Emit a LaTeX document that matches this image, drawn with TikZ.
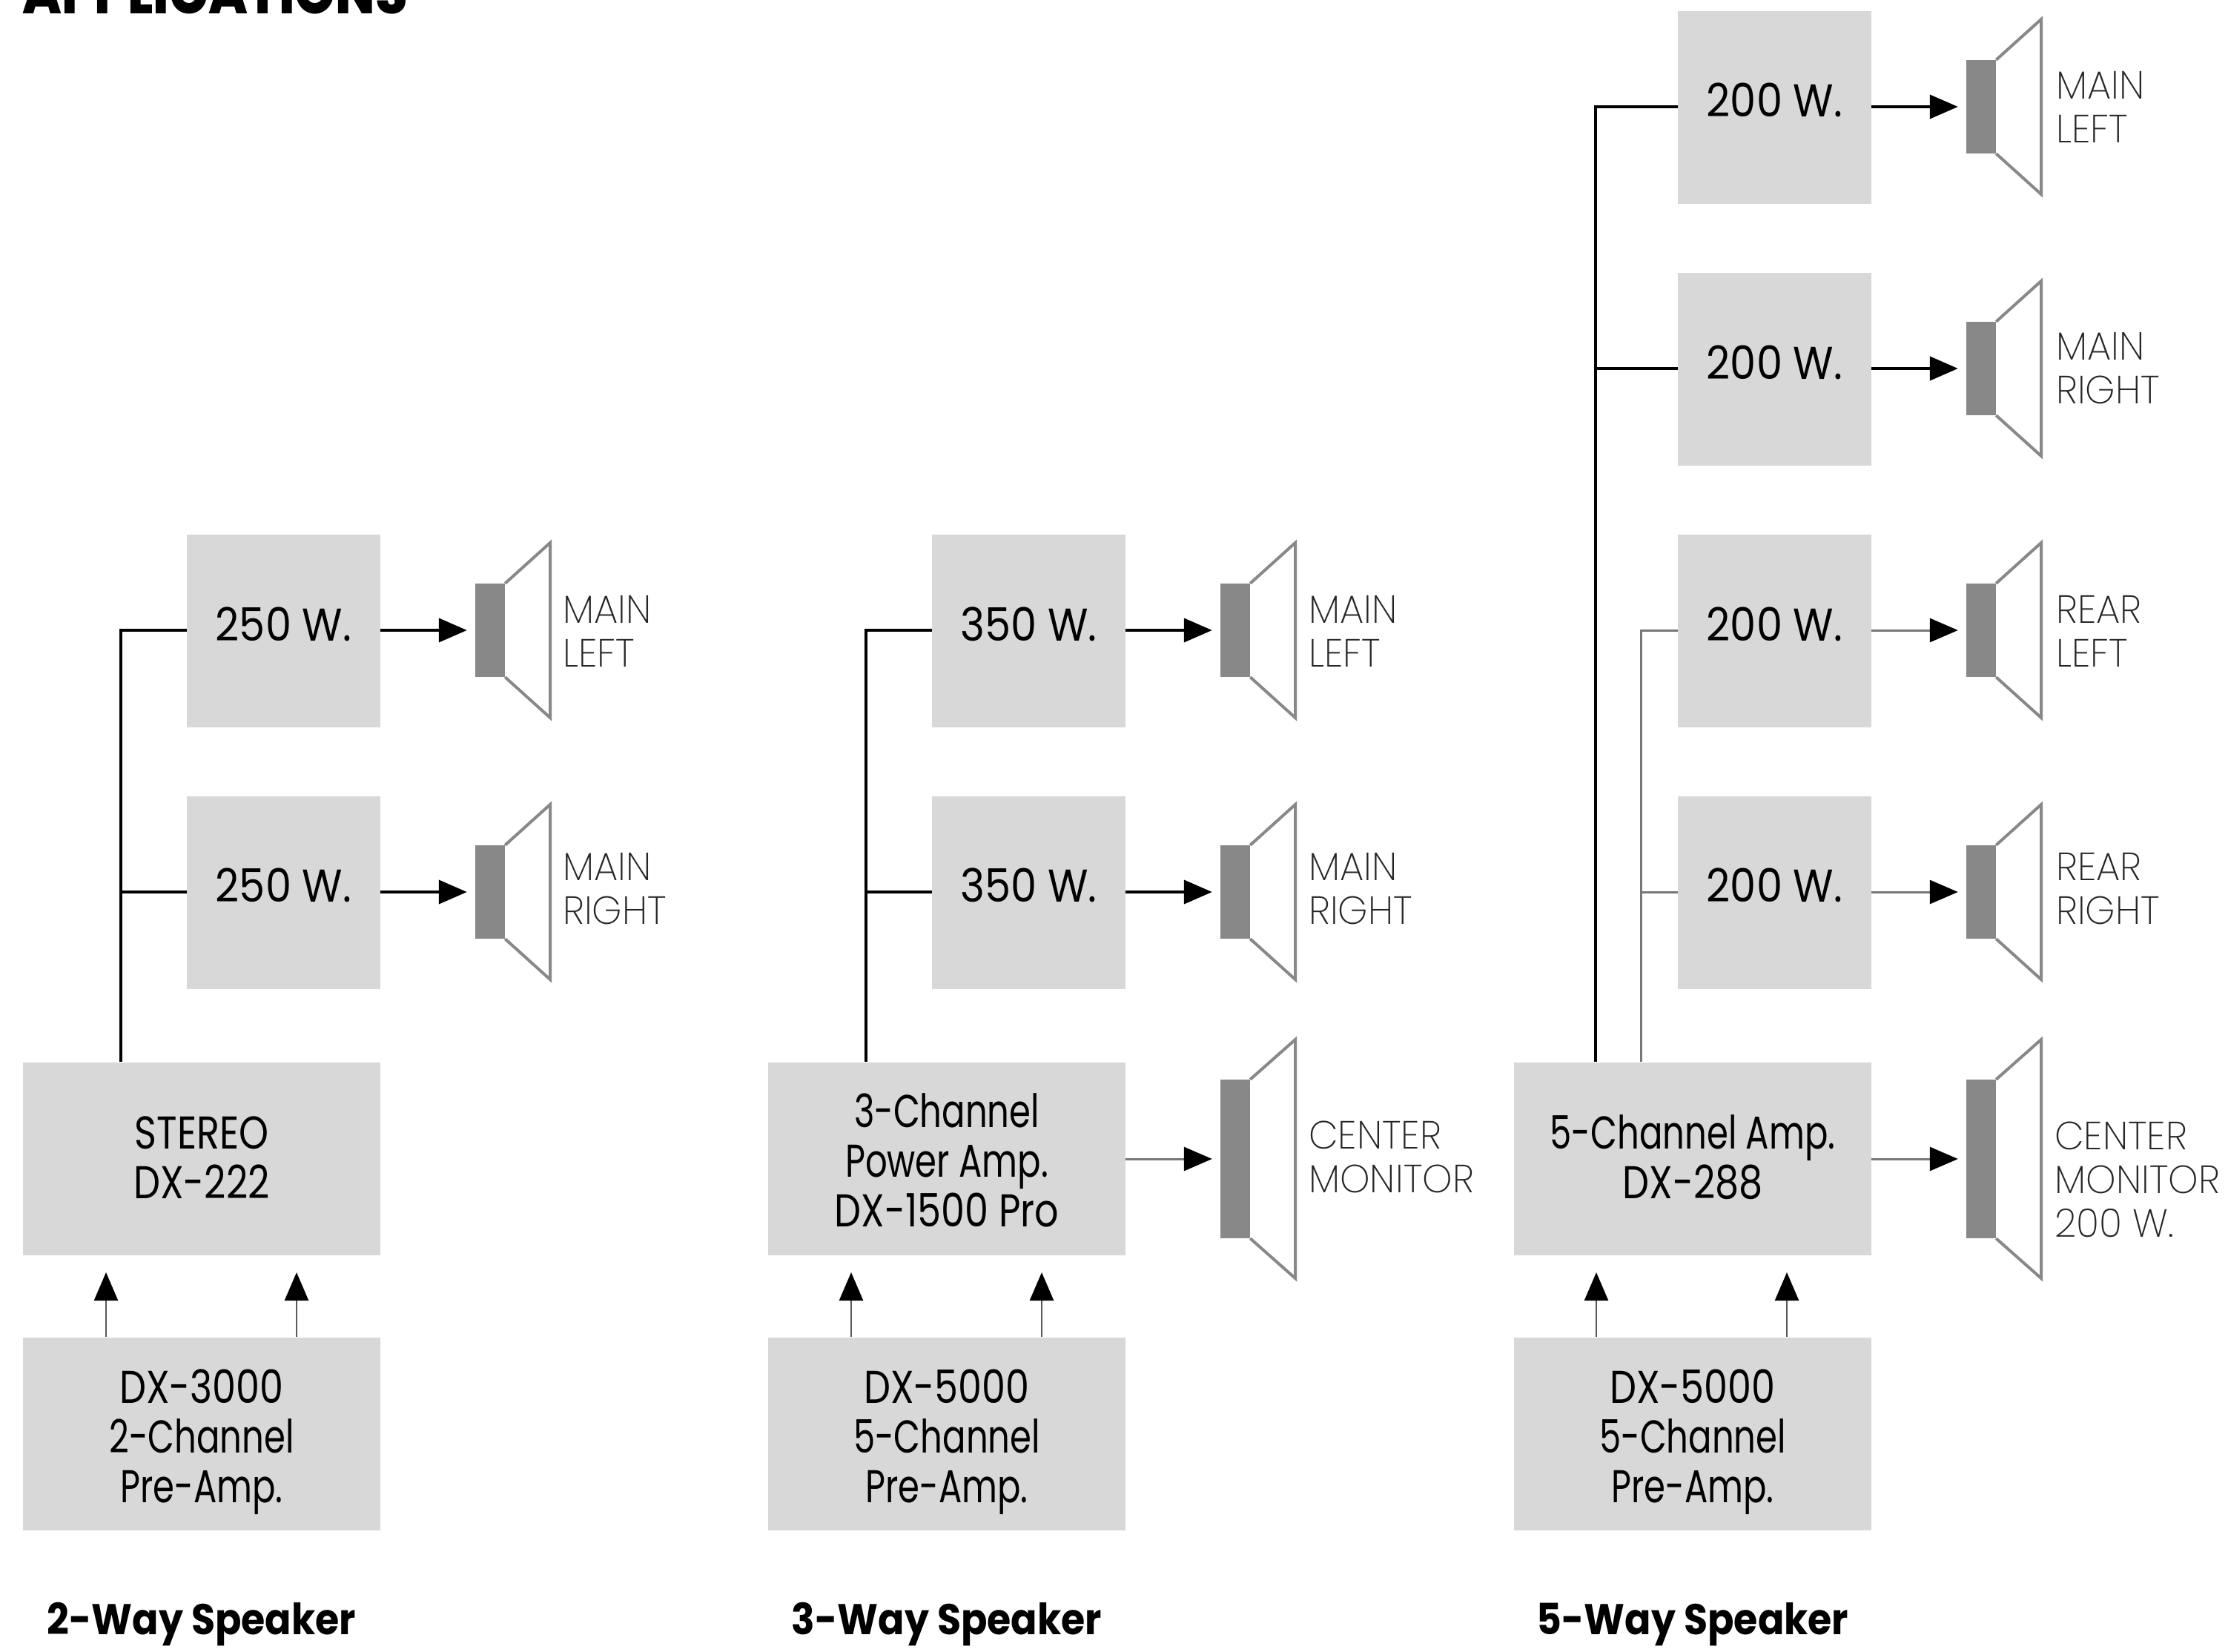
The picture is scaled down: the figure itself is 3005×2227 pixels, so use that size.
\documentclass[tikz,border=0pt]{standalone}
\usepackage{fontspec}
\usetikzlibrary{arrows.meta}
\setmainfont{Poppins}[FakeStretch=0.82]
\newfontfamily\capf{Poppins}[FakeStretch=0.82]
\newfontfamily\lowf{Poppins}[FakeStretch=0.75]
\newfontfamily\wattf{Poppins}[FakeStretch=0.9]
\newfontfamily\thinf{Poppins ExtraLight}[FakeStretch=0.97]
\newfontfamily\headf{Poppins}[UprightFont=*-Bold,FakeStretch=0.9]
\newfontfamily\heavyf{Poppins ExtraBold}[FakeStretch=0.875]
\definecolor{boxgray}{HTML}{D8D8D8}
\definecolor{spkgray}{HTML}{888888}
\definecolor{wiregray}{HTML}{777777}
\newcommand{\btext}[2]{\raisebox{#1pt}[0pt][0pt]{\begin{tabular}{@{}c@{}}#2\end{tabular}}}
\tikzset{
  x=1pt,y=-1pt,
  boxn/.style={fill=boxgray,inner sep=0pt,font=\fontsize{62}{67}\selectfont,text=black},
  pwr/.style={boxn,minimum width=261pt,minimum height=260pt},
  wide/.style={boxn,minimum width=482pt,minimum height=260pt},
  cone/.style={fill=spkgray,inner sep=0pt,minimum width=40pt},
  horn/.style={draw=spkgray,line width=4pt,line join=miter,fill=white},
  wire/.style={black,line width=4pt},
  thinwire/.style={wiregray,line width=3pt},
  flow/.style={-{Triangle[length=38pt,width=32pt,color=black]},shorten >=11pt},
  feed/.style={line width=2.5pt,draw=black!65,-{Triangle[length=38pt,width=32pt,color=black]}},
  lab/.style={anchor=west,inner sep=0pt,align=left,text=black!85,font=\thinf\fontsize{53}{59}\selectfont},
  ttl/.style={inner sep=0pt,font=\headf\fontsize{58}{67}\selectfont,text=black}
}
% name, cone centre x, centre y, cone half height, horn half height
\newcommand{\spk}[5]{%
  \node[cone,minimum height=#4*2pt] (#1) at (#2,#3) {};
  \pgfmathsetmacro{\flare}{#5-#4}
  \draw[horn] (#1.north east) -- ([xshift=61pt,yshift=\flare pt]#1.north east)
     -- ([xshift=61pt,yshift=-\flare pt]#1.south east) -- (#1.south east);
}
\begin{document}
\begin{tikzpicture}
\useasboundingbox (0,0) rectangle (3005,2227);
\begin{scope}
\clip (0,0) rectangle (3005,2227);
\node[anchor=base west,inner sep=0pt,font=\heavyf\fontsize{80}{80}\selectfont] (heading) at (30,18) {APPLICATIONS};
\end{scope}

% column 1
\node[pwr] (a1) at (382.5,851) {\btext{-6}{\wattf 250 W.}};
\node[pwr] (a2) at (382.5,1203.5) {\btext{-6}{\wattf 250 W.}};
\node[wide] (a3) at (272,1562.5) {\btext{-13}{\capf STEREO\\\capf DX-222}};
\node[wide] (a4) at (272,1933.5) {\btext{-18.5}{\capf DX-3000\\\lowf 2-Channel\\\lowf Pre-Amp.}};
\node[ttl] (at) at (272,2191) {2-Way Speaker};
\spk{as1}{661}{850}{63}{118}
\spk{as2}{661}{1203}{63}{118}
\node[lab] (al1) at (759,851) {MAIN\\LEFT};
\node[lab] (al2) at (759,1199) {MAIN\\RIGHT};
\coordinate (aj) at (163,1432);
\draw[wire] (a1.west |- as1) -| (aj);
\draw[wire] (a2.west |- as2) -- (a2.west |- as2 -| aj);
\draw[wire,flow] (a1.east |- as1) -- (as1.west);
\draw[wire,flow] (a2.east |- as2) -- (as2.west);
\coordinate (ai1) at (143,1803); \coordinate (ai2) at (400,1803);
\draw[feed] (ai1) -- (143,1716);
\draw[feed] (ai2) -- (400,1716);

% column 2
\node[pwr] (b1) at (1387.5,851) {\btext{-6}{\wattf 350 W.}};
\node[pwr] (b2) at (1387.5,1203.5) {\btext{-6}{\wattf 350 W.}};
\node[wide] (b3) at (1277,1562.5) {\btext{-18}{\lowf 3-Channel\\\lowf Power Amp.\\\capf DX-1500 Pro}};
\node[wide] (b4) at (1277,1933.5) {\btext{-18.5}{\capf DX-5000\\\lowf 5-Channel\\\lowf Pre-Amp.}};
\node[ttl] (bt) at (1277,2191) {3-Way Speaker};
\spk{bs1}{1666}{850}{63}{118}
\spk{bs2}{1666}{1203}{63}{118}
\spk{bs3}{1666}{1563}{107}{161}
\node[lab] (bl1) at (1765,851) {MAIN\\LEFT};
\node[lab] (bl2) at (1765,1199) {MAIN\\RIGHT};
\node[lab] (bl3) at (1765,1560) {CENTER\\MONITOR};
\coordinate (bj) at (1168,1432);
\draw[wire] (b1.west |- bs1) -| (bj);
\draw[wire] (b2.west |- bs2) -- (b2.west |- bs2 -| bj);
\draw[wire,flow] (b1.east |- bs1) -- (bs1.west);
\draw[wire,flow] (b2.east |- bs2) -- (bs2.west);
\draw[thinwire,flow] (b3.east |- bs3) -- (bs3.west);
\coordinate (bi1) at (1148,1803); \coordinate (bi2) at (1405,1803);
\draw[feed] (bi1) -- (1148,1716);
\draw[feed] (bi2) -- (1405,1716);

% column 3
\node[pwr] (c1) at (2393.5,144.5) {\btext{-6}{\wattf 200 W.}};
\node[pwr] (c2) at (2393.5,498) {\btext{-6}{\wattf 200 W.}};
\node[pwr] (c3) at (2393.5,851) {\btext{-6}{\wattf 200 W.}};
\node[pwr] (c4) at (2393.5,1203.5) {\btext{-6}{\wattf 200 W.}};
\node[wide] (c5) at (2283,1562.5) {\btext{-13}{\lowf 5-Channel Amp.\\\capf DX-288}};
\node[wide] (c6) at (2283,1933.5) {\btext{-18.5}{\capf DX-5000\\\lowf 5-Channel\\\lowf Pre-Amp.}};
\node[ttl] (ct) at (2283,2191) {5-Way Speaker};
\spk{cs1}{2672}{144}{63}{118}
\spk{cs2}{2672}{497}{63}{118}
\spk{cs3}{2672}{850}{63}{118}
\spk{cs4}{2672}{1203}{63}{118}
\spk{cs5}{2672}{1563}{107}{161}
\node[lab] (cl1) at (2773,144) {MAIN\\LEFT};
\node[lab] (cl2) at (2773,497) {MAIN\\RIGHT};
\node[lab] (cl3) at (2773,851) {REAR\\LEFT};
\node[lab] (cl4) at (2773,1199) {REAR\\RIGHT};
\node[lab] (cl5) at (2771,1591) {CENTER\\MONITOR\\200 W.};
\coordinate (cj) at (2152,1432);
\coordinate (ck) at (2213,1432);
\draw[wire] (c1.west |- cs1) -| (cj);
\draw[wire] (c2.west |- cs2) -- (c2.west |- cs2 -| cj);
\draw[thinwire] (c3.west |- cs3) -| (ck);
\draw[thinwire] (c4.west |- cs4) -- (c4.west |- cs4 -| ck);
\draw[wire,flow] (c1.east |- cs1) -- (cs1.west);
\draw[wire,flow] (c2.east |- cs2) -- (cs2.west);
\draw[thinwire,flow] (c3.east |- cs3) -- (cs3.west);
\draw[thinwire,flow] (c4.east |- cs4) -- (cs4.west);
\draw[thinwire,flow] (c5.east |- cs5) -- (cs5.west);
\coordinate (ci1) at (2153,1803); \coordinate (ci2) at (2410,1803);
\draw[feed] (ci1) -- (2153,1716);
\draw[feed] (ci2) -- (2410,1716);
\end{tikzpicture}
\end{document}
